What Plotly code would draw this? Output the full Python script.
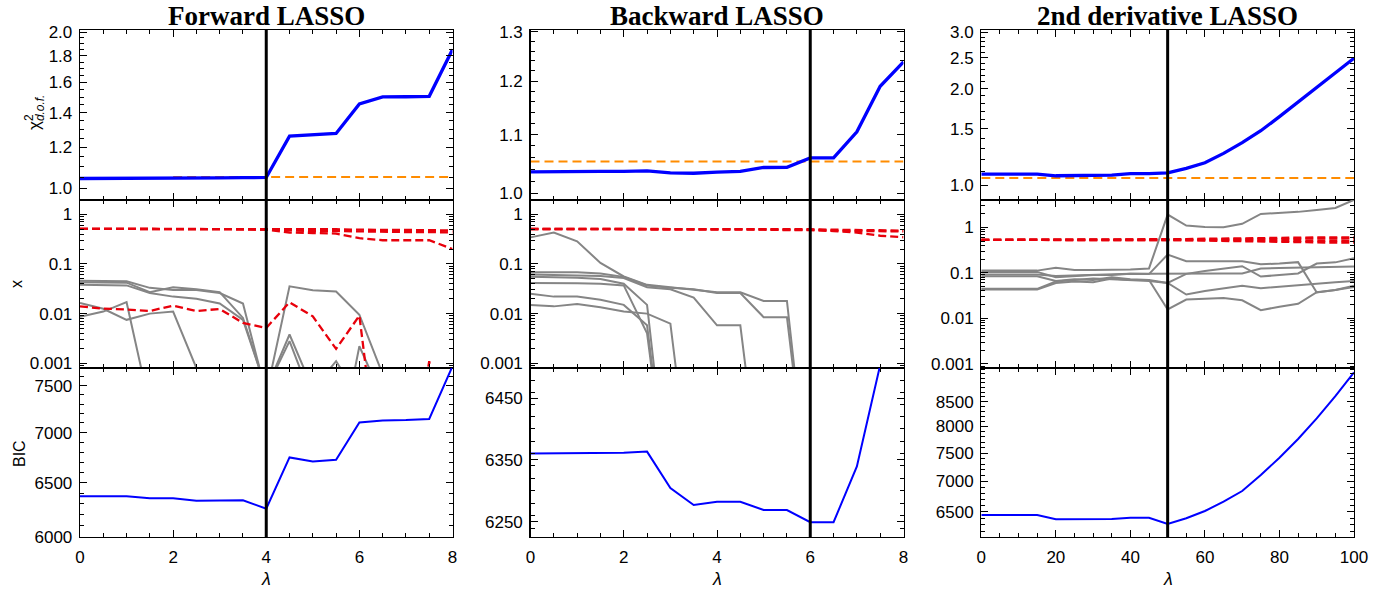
import math
import plotly.graph_objects as go

W, H = 1373, 591

# ---------------- data ----------------
lam_fb = [0, 0.5, 1, 1.5, 2, 2.5, 3, 3.5, 4, 4.5, 5, 5.5, 6, 6.5, 7, 7.5, 8]
lam_d2 = [0, 5, 10, 15, 20, 25, 30, 35, 40, 45, 50, 55, 60, 65, 70, 75, 80, 85, 90, 95, 100]
lam_opt = [4, 6, 50]
titles = ["Forward LASSO", "Backward LASSO", "2nd derivative LASSO"]

# Forward LASSO
fwd_chi2 = [1.045, 1.045, 1.045, 1.048, 1.048, 1.048, 1.048, 1.049, 1.050, 1.261, 1.267,
            1.276, 1.455, 1.501, 1.502, 1.505, 1.853]
fwd_ref_lam = [2, 8]
fwd_ref = [1.052, 1.052]
fwd_bic = [6371, 6371, 6371, 6353, 6353, 6330, 6330, 6335, 6256, 6748, 6708, 6725, 7106,
           7126, 7130, 7142, 7720]
fwd_red = [
    [0.51, 0.51, 0.51, 0.51, 0.51, 0.51, 0.51, 0.50, 0.50, 0.50, 0.50, 0.50, 0.49, 0.49, 0.48, 0.48, 0.47],
    [0.51, 0.51, 0.51, 0.51, 0.51, 0.51, 0.51, 0.50, 0.49, 0.47, 0.46, 0.46, 0.45, 0.45, 0.44, 0.44, 0.43],
    [0.51, 0.51, 0.51, 0.51, 0.51, 0.51, 0.50, 0.50, 0.49, 0.43, 0.42, 0.41, 0.33, 0.30, 0.30, 0.30, 0.20],
    [0.0140, 0.0126, 0.0121, 0.0113, 0.0145, 0.0113, 0.0124, 0.0065, 0.00515, 0.0169, 0.0088,
     0.00195, 0.0091, 1.5e-6, 1e-6, 0.0011, 1e-6],
]
fwd_gray = [
    [0.046, 0.046, 0.045, 0.033, 0.030, 0.030, 0.026, 0.016, 0.00024, 0.0355, 0.0295, 0.028,
     0.0095, 0.0006, 1e-6, 1e-6, 1e-6],
    [0.043, 0.043, 0.042, 0.027, 0.034, 0.031, 0.027, 0.0082, 0.0003, 0.0038, 0.0003, 0.0011,
     0.0002, 1e-6, 1e-6, 1e-6, 1e-6],
    [0.038, 0.038, 0.037, 0.026, 0.022, 0.020, 0.016, 0.0075, 0.0003, 0.0028, 0.0002, 1e-5,
     0.0022, 0.0002, 1e-6, 1e-6, 1e-6],
    [0.0164, 0.0125, 0.0075, 0.0100, 0.0110, 0.0008, 1e-6, 1e-6, 1e-6, 1e-6, 1e-6, 1e-6,
     1e-6, 1e-6, 1e-6, 1e-6, 1e-6],
    [0.0086, 0.011, 0.017, 0.00017, 1e-6, 1e-6, 1e-6, 1e-6, 1e-6, 1e-6, 1e-6, 1e-6,
     1e-6, 1e-6, 1e-6, 1e-6, 1e-6],
]

# Backward LASSO
bwd_chi2 = [1.0354, 1.036, 1.036, 1.036, 1.036, 1.037, 1.0337, 1.033, 1.035, 1.036, 1.0427,
            1.043, 1.059, 1.059, 1.105, 1.190, 1.238]
bwd_ref_lam = [0, 8]
bwd_ref = [1.053, 1.053]
bwd_bic = [6360, 6360, 6360, 6360, 6361, 6363, 6304, 6277, 6282, 6282, 6269, 6269, 6249.5,
           6249.5, 6339, 6505, 6800]
bwd_red = [
    [0.51, 0.51, 0.51, 0.51, 0.51, 0.51, 0.51, 0.51, 0.50, 0.50, 0.50, 0.50, 0.50, 0.49, 0.48, 0.48, 0.47],
    [0.51, 0.51, 0.51, 0.51, 0.51, 0.51, 0.51, 0.50, 0.50, 0.50, 0.50, 0.49, 0.49, 0.47, 0.46, 0.45, 0.45],
    [0.50, 0.50, 0.50, 0.50, 0.50, 0.50, 0.50, 0.50, 0.49, 0.49, 0.49, 0.48, 0.48, 0.46, 0.43, 0.37, 0.345],
]
bwd_gray = [
    [0.343, 0.43, 0.285, 0.105, 0.056, 0.038, 0.034, 0.030, 0.027, 0.027, 0.018, 0.018,
     1e-6, 1e-6, 1e-6, 1e-6, 1e-6],
    [0.068, 0.068, 0.068, 0.064, 0.055, 0.037, 0.033, 0.031, 0.026, 0.026, 0.0085, 0.0085,
     1e-6, 1e-6, 1e-6, 1e-6, 1e-6],
    [0.061, 0.060, 0.060, 0.057, 0.052, 0.034, 0.031, 0.021, 0.0058, 0.0058, 1e-6, 1e-6,
     1e-6, 1e-6, 1e-6, 1e-6, 1e-6],
    [0.055, 0.054, 0.053, 0.050, 0.040, 0.015, 1e-6, 1e-6, 1e-6, 1e-6, 1e-6, 1e-6,
     1e-6, 1e-6, 1e-6, 1e-6, 1e-6],
    [0.0415, 0.0415, 0.041, 0.040, 0.037, 0.004, 1e-6, 1e-6, 1e-6, 1e-6, 1e-6, 1e-6,
     1e-6, 1e-6, 1e-6, 1e-6, 1e-6],
    [0.025, 0.022, 0.022, 0.019, 0.015, 0.0058, 1e-6, 1e-6, 1e-6, 1e-6, 1e-6, 1e-6,
     1e-6, 1e-6, 1e-6, 1e-6, 1e-6],
    [0.015, 0.014, 0.0157, 0.0134, 0.011, 0.010, 0.0063, 1e-6, 1e-6, 1e-6, 1e-6, 1e-6,
     1e-6, 1e-6, 1e-6, 1e-6, 1e-6],
]

# 2nd derivative LASSO
d2_chi2 = [1.082, 1.082, 1.082, 1.082, 1.069, 1.072, 1.072, 1.074, 1.085, 1.085, 1.092,
           1.128, 1.174, 1.256, 1.356, 1.478, 1.635, 1.817, 2.019, 2.235, 2.489]
d2_ref_lam = [0, 100]
d2_ref = [1.052, 1.052]
d2_bic = [6448, 6448, 6448, 6448, 6381, 6383, 6385, 6387, 6404, 6404, 6308, 6396, 6511,
          6661, 6836, 7108, 7414, 7761, 8161, 8615, 9128]
d2_red = [
    [0.53, 0.53, 0.53, 0.53, 0.53, 0.53, 0.53, 0.53, 0.53, 0.53, 0.53, 0.55, 0.56, 0.57,
     0.58, 0.58, 0.59, 0.59, 0.60, 0.60, 0.60],
    [0.53, 0.53, 0.53, 0.53, 0.53, 0.53, 0.53, 0.53, 0.53, 0.53, 0.53, 0.52, 0.51, 0.50,
     0.50, 0.49, 0.48, 0.47, 0.47, 0.46, 0.46],
    [0.53, 0.53, 0.53, 0.53, 0.53, 0.53, 0.53, 0.53, 0.53, 0.53, 0.53, 0.54, 0.54, 0.54,
     0.55, 0.55, 0.55, 0.56, 0.56, 0.57, 0.57],
    [0.53, 0.53, 0.53, 0.53, 0.53, 0.53, 0.53, 0.53, 0.53, 0.53, 0.53, 0.52, 0.52, 0.52,
     0.52, 0.51, 0.51, 0.51, 0.50, 0.50, 0.50],
]
d2_gray = [
    [0.112, 0.112, 0.112, 0.112, 0.13, 0.115, 0.115, 0.115, 0.118, 0.125, 1.9, 1.09, 1.02,
     1.0, 1.19, 1.97, 2.05, 2.18, 2.4, 2.65, 4.0],
    [0.105, 0.105, 0.105, 0.105, 0.08, 0.085, 0.09, 0.09, 0.095, 0.094, 0.252, 0.18, 0.18,
     0.18, 0.18, 0.155, 0.16, 0.172, 0.037, 0.042, 0.052],
    [0.092, 0.092, 0.092, 0.092, 0.085, 0.088, 0.09, 0.092, 0.095, 0.096, 0.097, 0.097,
     0.097, 0.097, 0.097, 0.125, 0.128, 0.13, 0.13, 0.135, 0.138],
    [0.084, 0.084, 0.084, 0.084, 0.066, 0.072, 0.07, 0.08, 0.072, 0.07, 0.06, 0.095, 0.11,
     0.125, 0.14, 0.083, 0.09, 0.097, 0.16, 0.17, 0.21],
    [0.0446, 0.0446, 0.0446, 0.0446, 0.065, 0.07, 0.075, 0.072, 0.068, 0.066, 0.06, 0.0334,
     0.04, 0.046, 0.052, 0.046, 0.05, 0.054, 0.058, 0.062, 0.066],
    [0.043, 0.043, 0.043, 0.043, 0.06, 0.065, 0.062, 0.075, 0.07, 0.07, 0.0157, 0.026,
     0.027, 0.028, 0.025, 0.0152, 0.018, 0.021, 0.0376, 0.042, 0.049],
]

# tick labels
x_ticks = [[0, 2, 4, 6, 8], [0, 2, 4, 6, 8], [0, 20, 40, 60, 80, 100]]
chi_ticks = [[1.0, 1.2, 1.4, 1.6, 1.8, 2.0], [1.0, 1.1, 1.2, 1.3], [1.0, 1.5, 2.0, 2.5, 3.0]]
x_mid_ticks = [1, 0.1, 0.01, 0.001]
x_mid_labels = ["1", "0.1", "0.01", "0.001"]
bic_ticks = [[6000, 6500, 7000, 7500], [6250, 6350, 6450], [6500, 7000, 7500, 8000, 8500]]

# ---------------- layout geometry ----------------
def px_x(a, b):
    return [a / W, b / W]

def px_y(top, bottom):
    return [1 - bottom / H, 1 - top / H]

XD = [px_x(80, 452.5), px_x(530.5, 903.5), px_x(981.3, 1354)]
YD = [px_y(30, 200), px_y(200, 368), px_y(368, 537)]
XR = [[0, 8], [0, 8], [0, 100]]
L = math.log10
YR = [
    [[L(0.95), L(2.02)], [L(0.989), L(1.304)], [L(0.898), L(3.05)]],
    [[-3.095, 0.288], [-3.095, 0.288], [-3.088, 0.599]],
    [[L(6000), L(7700)], [L(6226), L(6500)], [L(6111), L(9227)]],
]
x_minor = [[i * 0.5 for i in range(17)], [i * 0.5 for i in range(17)], [i * 5 for i in range(21)]]
chi_minor = [[1 + 0.05 * i for i in range(-1, 22)], [0.98 + 0.02 * i for i in range(17)],
             [0.9 + 0.1 * i for i in range(22)]]
mid_minor = [m * 10 ** e for e in range(-4, 1) for m in range(2, 10)]
bic_minor = [[6000 + 100 * i for i in range(18)], [6220 + 20 * i for i in range(15)],
             [6100 + 100 * i for i in range(32)]]

FONT = "Liberation Sans, Arial, sans-serif"
BLUE = "#0000ff"
ORANGE = "#ff8c00"
RED = "#e8000b"
GRAY = "#858585"

fig = go.Figure()


def ax(k, kind):
    return kind if k == 1 else f"{kind}{k}"


def add(k, x, y, color, width, dash=None):
    fig.add_trace(go.Scatter(
        x=x, y=y, mode="lines",
        line=dict(color=color, width=width, dash=dash),
        xaxis=ax(k, "x"), yaxis=ax(k, "y"),
        showlegend=False, hoverinfo="skip"))


chi = [fwd_chi2, bwd_chi2, d2_chi2]
refs = [(fwd_ref_lam, fwd_ref), (bwd_ref_lam, bwd_ref), (d2_ref_lam, d2_ref)]
bics = [fwd_bic, bwd_bic, d2_bic]
reds = [fwd_red, bwd_red, d2_red]
grays = [fwd_gray, bwd_gray, d2_gray]
lams = [lam_fb, lam_fb, lam_d2]

for c in range(3):
    lam = lams[c]
    # top row
    add(c + 1, refs[c][0], refs[c][1], ORANGE, 2, "9px,5px")
    add(c + 1, lam, chi[c], BLUE, 3.3)
    # middle row
    for g in grays[c]:
        add(c + 4, lam, g, GRAY, 2)
    for r in reds[c]:
        add(c + 4, lam, r, RED, 2.3, "8px,4px")
    # bottom row
    add(c + 7, lam, bics[c], BLUE, 2)

layout = dict(
    width=W, height=H,
    margin=dict(l=0, r=0, t=0, b=0, autoexpand=False),
    paper_bgcolor="white", plot_bgcolor="white",
    showlegend=False,
    font=dict(family=FONT, size=17, color="black"),
)

def fmt_chi(v):
    return f"{v:.1f}"

for r in range(3):
    for c in range(3):
        k = r * 3 + c + 1
        xa = dict(
            domain=XD[c], range=XR[c], anchor=ax(k, "y"), automargin=False,
            showline=True, mirror="ticks", linecolor="black", linewidth=1.3,
            ticks="inside", ticklen=7, tickwidth=1, tickcolor="black",
            tickmode="array", tickvals=x_ticks[c], ticktext=[str(t) for t in x_ticks[c]],
            showticklabels=(r == 2), showgrid=False, zeroline=False,
            tickfont=dict(family=FONT, size=17, color="black"),
            ticklabelstandoff=4,
            minor=dict(tickmode="array", tickvals=x_minor[c], ticks="inside", ticklen=4,
                       tickwidth=1, tickcolor="black", showgrid=False),
        )
        if r == 0:
            tv, tt, mv = chi_ticks[c], [fmt_chi(v) for v in chi_ticks[c]], chi_minor[c]
        elif r == 1:
            tv, tt, mv = x_mid_ticks, x_mid_labels, mid_minor
        else:
            tv, tt, mv = bic_ticks[c], [str(v) for v in bic_ticks[c]], bic_minor[c]
        ya = dict(
            type="log", domain=YD[r], range=YR[r][c], anchor=ax(k, "x"), automargin=False,
            showline=True, mirror="ticks", linecolor="black", linewidth=1.3,
            ticks="inside", ticklen=7, tickwidth=1, tickcolor="black",
            tickmode="array", tickvals=tv, ticktext=tt,
            showgrid=False, zeroline=False,
            tickfont=dict(family=FONT, size=17, color="black"),
            ticklabelstandoff=3,
            minor=dict(tickmode="array", tickvals=mv, ticks="inside", ticklen=4,
                       tickwidth=1, tickcolor="black", showgrid=False),
        )
        layout["xaxis" if k == 1 else f"xaxis{k}"] = xa
        layout["yaxis" if k == 1 else f"yaxis{k}"] = ya

shapes = []
for c in range(3):
    shapes.append(dict(type="line", xref=ax(c + 1, "x"), yref="paper",
                       x0=lam_opt[c], x1=lam_opt[c], y0=YD[2][0], y1=YD[0][1],
                       line=dict(color="black", width=3), layer="above"))
layout["shapes"] = shapes

ann = []
for c in range(3):
    cx = (XD[c][0] + XD[c][1]) / 2
    ann.append(dict(text=f"<b>{titles[c]}</b>", x=cx, y=1 - 33 / H, xref="paper", yref="paper",
                    xanchor="center", yanchor="bottom", showarrow=False,
                    font=dict(family="Liberation Serif, Times New Roman, serif", size=27,
                              color="black")))
    ann.append(dict(text="<i>λ</i>", x=cx, y=1 - 579 / H, xref="paper", yref="paper",
                    xanchor="center", yanchor="middle", showarrow=False,
                    font=dict(family=FONT, size=18, color="black")))

ann.append(dict(text="χ<sub><i>d.o.f.</i></sub>", x=36 / W, y=1 - 113 / H, xref="paper",
                yref="paper", xanchor="center", yanchor="middle", showarrow=False,
                textangle=-90, font=dict(family=FONT, size=17, color="black")))
ann.append(dict(text="2", x=29 / W, y=1 - 118 / H, xref="paper", yref="paper",
                xanchor="center", yanchor="middle", showarrow=False,
                textangle=-90, font=dict(family=FONT, size=12, color="black")))
ann.append(dict(text="x", x=16 / W, y=1 - 284 / H, xref="paper", yref="paper",
                xanchor="center", yanchor="middle", showarrow=False,
                textangle=-90, font=dict(family=FONT, size=16, color="black")))
ann.append(dict(text="BIC", x=19 / W, y=1 - 454 / H, xref="paper", yref="paper",
                xanchor="center", yanchor="middle", showarrow=False,
                textangle=-90, font=dict(family=FONT, size=16, color="black")))
layout["annotations"] = ann

fig.update_layout(**layout)
fig.write_html("out.html", config={"displayModeBar": False, "staticPlot": True},
               post_script="document.body.style.margin='0px';document.body.style.padding='0px';")
